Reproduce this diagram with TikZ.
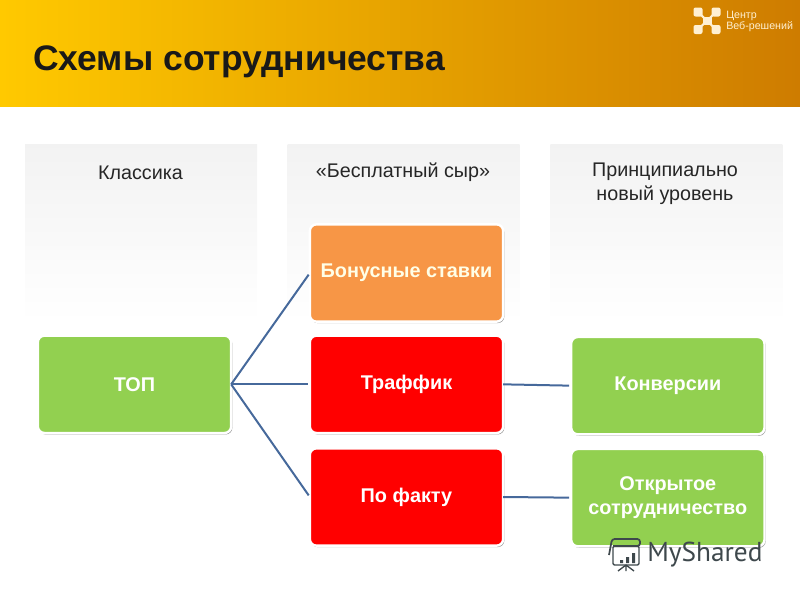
\documentclass[tikz,border=0pt]{standalone}
\usepackage{fontspec}
\setmainfont{Liberation Sans}
\newfontfamily\markfont{PT Sans}
\usepackage{xcolor}
\usepackage{tikz}
\usetikzlibrary{positioning,shadows}
\definecolor{headyellow}{RGB}{255,201,0}
\definecolor{headorange}{RGB}{206,124,0}
\definecolor{boxgreen}{RGB}{146,208,80}
\definecolor{boxorange}{RGB}{247,150,70}
\definecolor{boxred}{RGB}{255,0,0}
\definecolor{linkblue}{RGB}{70,105,155}
\definecolor{logocream}{RGB}{255,240,210}
\definecolor{markgrey}{RGB}{62,72,76}

\begin{document}
\begin{tikzpicture}[
    x=0.75pt, y=-0.75pt,
    column/.style={rectangle, anchor=north west, minimum width=174pt, minimum height=134pt,
        outer sep=0pt, top color=black!5, bottom color=white},
    collabel/.style={font=\fontsize{14.8}{18}\selectfont, text=black!85, align=center},
    tile/.style={rectangle, draw=white, line width=1.8pt, rounded corners=5pt,
        minimum width=145pt, minimum height=73pt, outer sep=0pt, align=center,
        font=\bfseries\fontsize{14.9}{18.5}\selectfont, text=white,
        drop shadow={shadow xshift=0.9pt, shadow yshift=-1.1pt, fill=black, opacity=0.4}},
    greentile/.style={tile, fill=boxgreen},
    redtile/.style={tile, fill=boxred},
    orangetile/.style={tile, fill=boxorange, text=white!90!yellow},
    link/.style={linkblue, line width=1.5pt, shorten >=1.5pt}
]
    \useasboundingbox (0,0) rectangle (800,600);

    % Header band
    \node[rectangle, anchor=north west, minimum width=600pt, minimum height=80pt, outer sep=0pt,
        left color=headyellow, right color=headorange] (band) at (0,0) {};
    \node[anchor=west, inner sep=0pt, font=\bfseries\fontsize{26.6}{30}\selectfont, text=black!90] (title) at (33,62)
        {Схемы сотрудничества};

    % Logo
    \draw[logocream, line width=1.6pt] (698,12) -- (716,29.5) (716,12) -- (698,29.5);
    \foreach \lx/\ly in {698/12, 716/12, 698/29.5, 716/29.5}
        \fill[logocream, rounded corners=1.5pt] (\lx-4.5,\ly-4.5) rectangle (\lx+4.5,\ly+4.5);
    \fill[logocream] (703,16.5) rectangle (712,25);
    \node[anchor=west, font=\fontsize{8}{8.6}\selectfont, text=logocream, align=left, inner sep=0pt] (logotext)
        at (726,21.5) {Центр\\Веб-решений};

    % Column backgrounds
    \node[column] (col1) at (25,144) {};
    \node[column, right=23pt of col1] (col2) {};
    \node[column, right=23pt of col2] (col3) {};

    \node[collabel] (lab1) at (140.5,172.5) {Классика};
    \node[collabel] (lab2) at (403,172.5) {«Бесплатный сыр»};
    \node[collabel] (lab3) at (665,183.5) {Принципиально\\новый уровень};

    % Middle column
    \node[orangetile] (bonus) at (406.5,273) {Бонусные ставки};
    \node[redtile, below=10.5pt of bonus] (traffic) {Траффик};
    \node[redtile, below=11.5pt of traffic] (fact) {По факту};

    % Left and right tiles
    \node[greentile, left=59pt of traffic] (top) {ТОП};
    \node[greentile, right=51pt of traffic, yshift=-1pt] (conv) {Конверсии};
    \node[greentile, right=51pt of fact, yshift=-0.5pt] (open) {Открытое\\сотрудничество};

    % Links
    \draw[link] (top.east) -- (bonus.west);
    \draw[link] (top.east) -- (traffic.west);
    \draw[link] (top.east) -- (fact.west);
    \draw[link] (traffic.east) -- (conv.west);
    \draw[link] (fact.east) -- (open.west);

    % Watermark
    \draw[markgrey, line width=1pt, rounded corners=1pt] (613,546) rectangle (639,565);
    \draw[markgrey, line width=1.3pt, rounded corners=2pt] (609,555) -- (612,539) -- (640,539) -- (640,546) -- (613,546);
    \fill[markgrey] (620,560) rectangle (623,563) (626,557) rectangle (629,563) (632,553) rectangle (635,563);
    \draw[markgrey, line width=1pt] (626,565) -- (618,571) (626,565) -- (626,571) (626,565) -- (634,571);
    \node[anchor=west, inner sep=0pt, font=\markfont\fontsize{20.5}{24}\selectfont, text=markgrey] (mark)
        at (647,555) {MyShared};
\end{tikzpicture}
\end{document}
